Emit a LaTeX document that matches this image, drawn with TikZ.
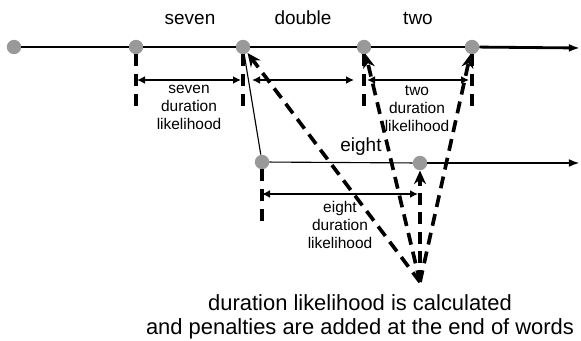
\documentclass[tikz,border=0pt]{standalone}
\usepackage{fontspec}
\setmainfont{Liberation Sans}
\usetikzlibrary{arrows.meta,positioning}
\definecolor{DotGray}{RGB}{153,153,153}

\begin{document}
\begin{tikzpicture}[x=0.25mm, y=-0.25mm,
    wdot/.style={circle, fill=DotGray, inner sep=0pt, minimum size=3.6mm},
    word/.style={font=\fontsize{13.5}{16}\selectfont, anchor=base, inner sep=0pt},
    dur/.style={font=\fontsize{11}{12.8}\selectfont, align=center, anchor=north, inner sep=0pt},
    track/.style={line width=0.8pt},
    exit/.style={-{Latex[length=2.8mm,width=2mm]}, line width=2pt},
    drop/.style={line width=2.2pt, dash pattern=on 3mm off 2mm},
    dspan/.style={{Latex[length=2mm,width=2mm]}-{Latex[length=2mm,width=2mm]}, line width=1.6pt},
    score/.style={-{Stealth[length=3.4mm,width=3mm]}, line width=2.6pt, dash pattern=on 3mm off 1.8mm}
]
    \useasboundingbox (0,0) rectangle (581,340);
    % word boundaries
    \node[wdot] (n0) at (14,47) {};
    \node[wdot] (n1) at (136,47) {};
    \node[wdot] (n2) at (243,47) {};
    \node[wdot] (n3) at (364,47) {};
    \node[wdot] (n4) at (472,47) {};
    \node[wdot] (m1) at (262,162) {};
    \node[wdot] (m2) at (420,163) {};
    \coordinate (e1) at (580,48);
    \coordinate (e2) at (580,163);
    \coordinate (bot) at (420,282);

    \draw[track] (n0) -- (n1) -- (n2) -- (n3) -- (n4);
    \draw[exit] (n4) -- (e1);
    \draw[track] (n2) -- (m1) -- (m2);
    \draw[exit] (m2) -- (e2);

    % words
    \node[word] (w1) at (190,24) {seven};
    \node[word] (w2) at (303,24) {double};
    \node[word] (w3) at (418,25) {two};
    \node[word] (w4) at (361,151) {eight};

    % durations
    \foreach \n in {n1,n2,n3,n4,m1}
        \draw[drop] (\n.south) -- ++(0,55);
    \draw[dspan] (137,80) -- (241,80);
    \draw[dspan] (252,80) -- (354,80);
    \draw[dspan] (367,80) -- (469,80);
    \draw[dspan] (262,194) -- (418,194);
    \node[dur] (d1) at (189,85) {seven\\duration\\likelihood};
    \node[dur] (d3) at (417,85) {two\\duration\\likelihood};
    \node[dur] (d4) at (340,201) {eight\\duration\\likelihood};

    % penalties
    \draw[score] (bot) -- (n2);
    \draw[score] (bot) -- (n3);
    \draw[score] (bot) -- (n4);
    \draw[score] (bot) -- (m2);
    \node[font=\fontsize{15.6}{17.2}\selectfont, align=center, inner sep=0pt] (note) at (360,317)
        {duration likelihood is calculated\\and penalties are added at the end of words};
\end{tikzpicture}
\end{document}
